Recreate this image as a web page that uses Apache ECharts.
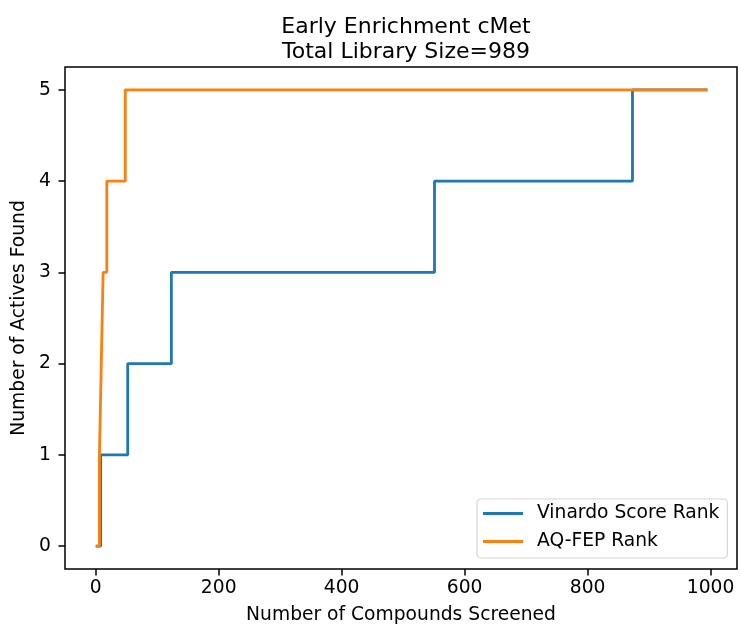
<!DOCTYPE html>
<html>
<head>
<meta charset="utf-8">
<script src="https://cdn.jsdelivr.net/npm/echarts@6/dist/echarts.min.js"></script>
<style>
html,body{margin:0;padding:0;background:#fff;}
#chart{width:740px;height:625px;}
</style>
</head>
<body>
<div id="chart"></div>
<script>
const titleText = 'Early Enrichment cMet\nTotal Library Size=989';
const xAxisName = 'Number of Compounds Screened';
const yAxisName = 'Number of Actives Found';
const seriesNames = ['Vinardo Score Rank', 'AQ-FEP Rank'];
// step change points: [compounds screened, actives found]
const vinardoSteps = [[0,0],[8,1],[52,2],[123,3],[551,4],[873,5],[995,5]];
const aqfepSteps = [[0,0],[6,1],[9,2],[12,3],[18,4],[48,5],[995,5]];
const xTicks = [0,200,400,600,800,1000];
const yTicks = [0,1,2,3,4,5];
const colors = ['#1f77b4','#ff7f0e'];

const FONT = 'DejaVu Sans';
const chart = echarts.init(document.getElementById('chart'), null, {renderer:'canvas'});
chart.setOption({
  animation:false,
  backgroundColor:'#fff',
  title:{
    text:titleText,
    left:401, textAlign:'center', top:10,
    textStyle:{fontFamily:FONT,fontSize:22,fontWeight:'normal',color:'#000',lineHeight:25}
  },
  legend:{
    orient:'vertical',
    left:477, top:499,
    padding:[5,8,7,6],
    itemGap:9,
    icon:'rect',
    itemWidth:40, itemHeight:2.8,
    backgroundColor:'#fff',
    borderColor:'#d6d6d6', borderWidth:1.2, borderRadius:4,
    textStyle:{fontFamily:FONT,fontSize:18.7,color:'#000',lineHeight:19,padding:[0,0,0,9]},
    data:seriesNames
  },
  grid:{left:65,right:3,top:67,bottom:56,outerBoundsMode:'none',containLabel:false,
        show:true,borderColor:'#000',borderWidth:1.5,backgroundColor:'transparent'},
  xAxis:{
    type:'value', min:-50, max:1043,
    name:xAxisName, nameLocation:'middle', nameGap:37,
    nameTextStyle:{fontFamily:FONT,fontSize:18.7,color:'#000'},
    axisLine:{show:false,onZero:false},
    axisTick:{show:true,inside:false,length:6.5,lineStyle:{color:'#000',width:1.5},customValues:xTicks},
    axisLabel:{fontFamily:FONT,fontSize:18.7,color:'#000',margin:10,customValues:xTicks,
               formatter:function(v){return String(v);}},
    splitLine:{show:false}
  },
  yAxis:{
    type:'value', min:-0.25, max:5.25,
    name:yAxisName, nameLocation:'middle', nameGap:27, nameRotate:90,
    nameTextStyle:{fontFamily:FONT,fontSize:18.7,color:'#000'},
    axisLine:{show:false,onZero:false},
    axisTick:{show:true,inside:false,length:6.5,lineStyle:{color:'#000',width:1.5},customValues:yTicks},
    axisLabel:{fontFamily:FONT,fontSize:18.7,color:'#000',margin:14,customValues:yTicks,
               formatter:function(v){return String(v);}},
    splitLine:{show:false}
  },
  series:[
    {name:seriesNames[0],type:'line',step:'end',data:vinardoSteps,symbol:'none',
     lineStyle:{color:colors[0],width:2.8},itemStyle:{color:colors[0]}},
    {name:seriesNames[1],type:'line',step:'end',data:aqfepSteps,symbol:'none',
     lineStyle:{color:colors[1],width:2.8},itemStyle:{color:colors[1]}}
  ]
});
</script>
</body>
</html>
